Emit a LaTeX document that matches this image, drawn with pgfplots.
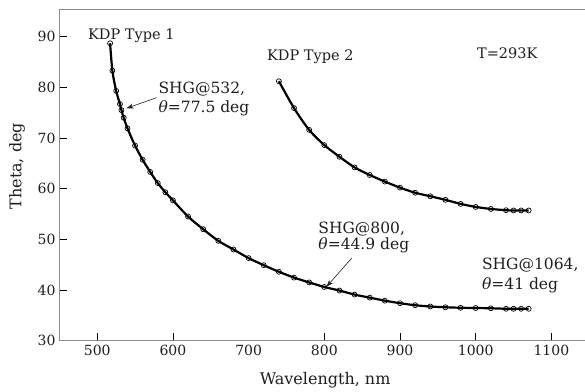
\documentclass[border=0pt]{standalone}
\usepackage{pgfplots}
\pgfplotsset{compat=1.18}
\usepackage{fontspec}
\setmainfont{DejaVu Serif}
\usetikzlibrary{arrows.meta}
\definecolor{axgray}{RGB}{140,140,140}
\definecolor{txt}{RGB}{30,30,30}
\newcommand{\fs}[1]{\fontsize{#1bp}{1.2\dimexpr #1bp\relax}\selectfont}
\begin{document}
\begin{tikzpicture}
\path[use as bounding box] (-59bp,-51.3bp) rectangle (526bp,340.7bp);
\begin{axis}[
  at={(0,0)}, anchor=south west,
  scale only axis, width=526bp, height=331.2bp,
  xmin=449.5, xmax=1144.4, ymin=30, ymax=95.36,
  axis x line*=bottom, axis y line*=left,
  axis line style={axgray, line width=0.9bp},
  tick align=inside,
  xtick={500,600,800,900,1000,1100},
  extra x ticks={700},
  extra x tick style={major tick length=0pt},
  ytick={30,40,...,90},
  major tick length=8bp,
  tick style={black, line width=0.8bp},
  /pgf/number format/assume math mode=true,
  /pgf/number format/1000 sep={},
  tick label style={font=\fs{14}, text=txt},
  xticklabel style={yshift=-1bp},
  xlabel={Wavelength, nm},
  xlabel style={at={(axis description cs:0.506,0)}, anchor=center, yshift=-39.3bp, font=\fs{16}, text=txt},
  clip=false,
]
\draw[axgray, line width=0.9bp] (rel axis cs:0,1) -- (rel axis cs:1,1);

\addplot[black, line width=2.2bp, smooth, tension=0.5, mark=o, mark size=2.5bp,
  mark options={solid, fill=white, line width=0.7bp}] coordinates {
(517,88.7) (520,83.3) (525,79.3) (530,76.7) (532,75.5) (535,74.0) (540,71.9)
(550,68.5) (560,65.7) (570,63.3) (580,61.1) (590,59.3) (600,57.7) (620,54.5)
(640,52.0) (660,49.7) (680,48.0) (700,46.3) (720,44.9) (740,43.6) (760,42.45)
(780,41.5) (800,40.6) (820,39.9) (840,39.1) (860,38.5) (880,37.9) (900,37.4)
(920,37.0) (940,36.75) (960,36.6) (980,36.5) (1000,36.45) (1020,36.4)
(1040,36.3) (1050,36.3) (1060,36.3) (1070,36.3)
};

\addplot[black, line width=2.2bp, smooth, tension=0.5, mark=o, mark size=2.5bp,
  mark options={solid, fill=white, line width=0.7bp}] coordinates {
(740,81.2) (760,75.9) (780,71.6) (800,68.6) (820,66.3) (840,64.2) (860,62.7)
(880,61.4) (900,60.2) (920,59.2) (940,58.5) (960,57.8) (980,57.0) (1000,56.4)
(1020,56.0) (1040,55.75) (1050,55.7) (1060,55.7) (1070,55.7)
};

\node[rotate=90, anchor=center, inner sep=0pt, font=\fs{16}, text=txt] at ([xshift=-42bp]rel axis cs:0,0.527) {Theta, deg};

\draw[-{Stealth[length=7bp,width=5bp]}, line width=0.6bp, txt] (axis cs:578.5,77.96) -- (axis cs:538.8,75.87);
\draw[-{Stealth[length=7bp,width=5bp]}, line width=0.6bp, txt] (axis cs:836,46.26) -- (axis cs:803,40.66);

\node[anchor=base west, inner sep=0pt, font=\fs{14.5}, text=txt] at (axis cs:487.7,89.5) {KDP Type 1};
\node[anchor=base west, inner sep=0pt, font=\fs{14.5}, text=txt] at (axis cs:724.2,85.2) {KDP Type 2};
\node[anchor=base west, inner sep=0pt, font=\fs{14.5}, text=txt] at (axis cs:1001.6,85.6) {T=293K};

\node[anchor=base west, inner sep=0pt, font=\fs{15.5}, text=txt] at (axis cs:580.8,78.69) {SHG@532,};
\node[anchor=base west, inner sep=0pt, font=\fs{15.5}, text=txt] at (axis cs:580.8,75.04) {\textit{θ}=77.5 deg};
\node[anchor=base west, inner sep=0pt, font=\fs{15.5}, text=txt] at (axis cs:792,51.16) {SHG@800,};
\node[anchor=base west, inner sep=0pt, font=\fs{15.5}, text=txt] at (axis cs:792,47.9) {\textit{θ}=44.9 deg};
\node[anchor=base west, inner sep=0pt, font=\fs{15.5}, text=txt] at (axis cs:1008.2,44.05) {SHG@1064,};
\node[anchor=base west, inner sep=0pt, font=\fs{15.5}, text=txt] at (axis cs:1008.2,40.2) {\textit{θ}=41 deg};
\end{axis}
\end{tikzpicture}
\end{document}
